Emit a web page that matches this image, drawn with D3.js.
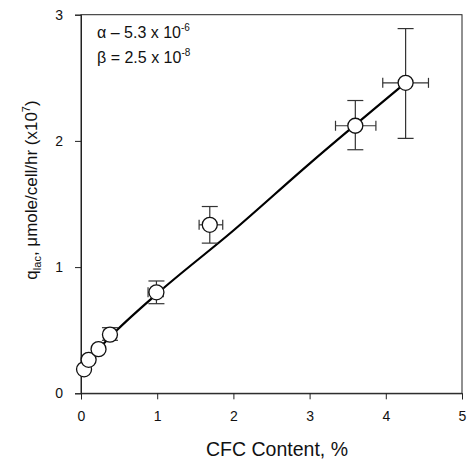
<!DOCTYPE html>
<html><head><meta charset="utf-8">
<script src="https://cdn.jsdelivr.net/npm/d3@7"></script>
<style>body{margin:0;background:#fff}svg{display:block}</style>
</head><body>
<svg id="c" width="469" height="461"></svg>
<script>
const xs = [0.04, 0.10, 0.23, 0.38, 0.99, 1.69, 3.60, 4.26];
const ys = [0.19, 0.265, 0.35, 0.465, 0.80, 1.335, 2.12, 2.46];
const yErrLo = [null, null, null, 0.42, 0.71, 1.19, 1.93, 2.02];
const yErrHi = [null, null, null, 0.52, 0.89, 1.48, 2.32, 2.89];
const xErrLo = [null, null, null, 0.30, 0.88, 1.55, 3.34, 3.96];
const xErrHi = [null, null, null, 0.45, 1.08, 1.86, 3.87, 4.56];
const fitX = [0.04, 0.47, 1.0, 2.0, 3.0, 4.26];
const fitY = [0.23, 0.50, 0.79, 1.29, 1.82, 2.46];
const xTicks = [0, 1, 2, 3, 4, 5];
const yTicks = [0, 1, 2, 3];

const svg = d3.select("#c");
const font = "Liberation Sans, Arial, sans-serif";
const x = d3.scaleLinear().domain([0, 5]).range([81, 462]);
const y = d3.scaleLinear().domain([0, 3]).range([393.3, 14.7]);

// frame
svg.append("rect").attr("x", x(0)).attr("y", y(3)).attr("width", x(5) - x(0)).attr("height", y(0) - y(3))
  .attr("fill", "none").attr("stroke", "#222").attr("stroke-width", 1);

const xa = svg.append("g").attr("transform", `translate(0,${y(0)})`)
  .call(d3.axisBottom(x).tickValues(xTicks).tickSize(6).tickPadding(12).tickFormat(d3.format("d")));
const ya = svg.append("g").attr("transform", `translate(${x(0)},0)`)
  .call(d3.axisLeft(y).tickValues(yTicks).tickSize(6).tickPadding(12).tickFormat(d3.format("d")));
[xa, ya].forEach(a => {
  a.select(".domain").attr("stroke", "#222");
  a.selectAll(".tick line").attr("stroke", "#222");
  a.selectAll(".tick text").attr("font-family", font).attr("font-size", 14).attr("fill", "#111");
});

// fit line
const fit = fitX.map((v, i) => [v, fitY[i]]);
svg.append("path").datum(fit)
  .attr("d", d3.line().x(d => x(d[0])).y(d => y(d[1])).curve(d3.curveMonotoneX))
  .attr("fill", "none").attr("stroke", "#000").attr("stroke-width", 2.2);

// error bars
const cap = 5;
const eb = svg.append("g").attr("stroke", "#333").attr("stroke-width", 1.2);
xs.forEach((xv, i) => {
  if (yErrLo[i] !== null) {
    eb.append("line").attr("x1", x(xv)).attr("x2", x(xv)).attr("y1", y(yErrLo[i])).attr("y2", y(yErrHi[i]));
    [yErrLo[i], yErrHi[i]].forEach(v => eb.append("line").attr("x1", x(xv) - cap * 1.6).attr("x2", x(xv) + cap * 1.6).attr("y1", y(v)).attr("y2", y(v)));
  }
  if (xErrLo[i] !== null) {
    eb.append("line").attr("y1", y(ys[i])).attr("y2", y(ys[i])).attr("x1", x(xErrLo[i])).attr("x2", x(xErrHi[i]));
    [xErrLo[i], xErrHi[i]].forEach(v => eb.append("line").attr("y1", y(ys[i]) - cap).attr("y2", y(ys[i]) + cap).attr("x1", x(v)).attr("x2", x(v)));
  }
});

// points
svg.append("g").selectAll("circle").data(xs).join("circle")
  .attr("cx", d => x(d)).attr("cy", (d, i) => y(ys[i])).attr("r", 7.5)
  .attr("fill", "#fff").attr("stroke", "#111").attr("stroke-width", 1.3);

// annotations
const ann = [["α – 5.3 x 10", "-6", 38], ["β = 2.5 x 10", "-8", 63]];
ann.forEach(a => {
  const t = svg.append("text").attr("x", 97).attr("y", a[2]).attr("font-family", font).attr("font-size", 16).attr("fill", "#111");
  t.append("tspan").text(a[0]);
  t.append("tspan").attr("dy", -7).attr("font-size", 10).text(a[1]);
});

// axis titles
svg.append("text").attr("x", 277).attr("y", 456).attr("text-anchor", "middle")
  .attr("font-family", font).attr("font-size", 19.5).attr("fill", "#111").text("CFC Content, %");
const yt = svg.append("text").attr("transform", `translate(37,190) rotate(-90)`).attr("text-anchor", "middle")
  .attr("font-family", font).attr("font-size", 17).attr("fill", "#111");
yt.append("tspan").text("q");
yt.append("tspan").attr("dy", 4).attr("font-size", 11).text("lac");
yt.append("tspan").attr("dy", -4).text(", μmole/cell/hr (x10");
yt.append("tspan").attr("dy", -7).attr("font-size", 11).text("7");
yt.append("tspan").attr("dy", 7).text(")");
</script>
</body></html>
